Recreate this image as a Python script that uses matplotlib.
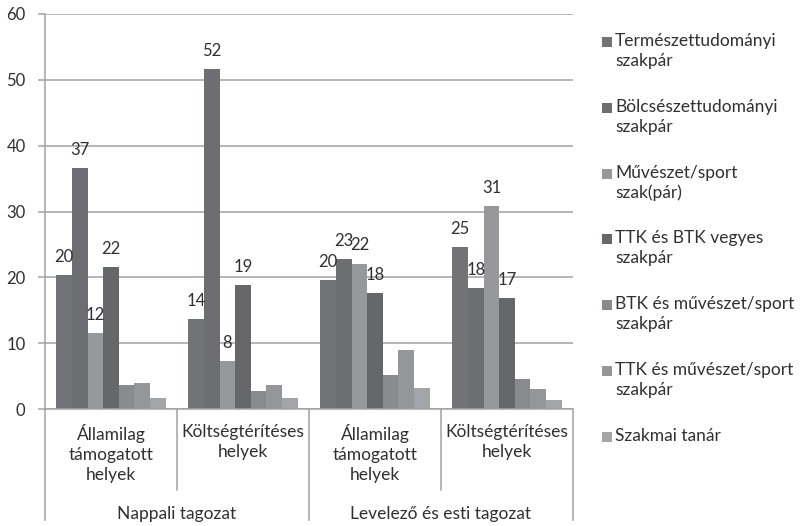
import matplotlib
matplotlib.use("Agg")
import matplotlib.pyplot as plt
import numpy as np
from matplotlib.lines import Line2D
from matplotlib.patches import Rectangle

plt.rcParams['font.family'] = ['Lato', 'DejaVu Sans']

categories = ["Államilag\ntámogatott\nhelyek", "Költségtérítéses\nhelyek",
              "Államilag\ntámogatott\nhelyek", "Költségtérítéses\nhelyek"]
groups = ["Nappali tagozat", "Levelező és esti tagozat"]

series_names = ["Természettudományi\nszakpár", "Bölcsészettudományi\nszakpár",
                "Művészet/sport\nszak(pár)", "TTK és BTK vegyes\nszakpár",
                "BTK és művészet/sport\nszakpár", "TTK és művészet/sport\nszakpár",
                "Szakmai tanár"]

termeszet = [20.4, 13.7, 19.6, 24.6]
bolcsesz = [36.6, 51.6, 22.8, 18.4]
muveszet = [11.6, 7.3, 22.1, 30.8]
ttk_btk = [21.6, 18.8, 17.6, 16.9]
btk_muv = [3.7, 2.8, 5.2, 4.5]
ttk_muv = [4.0, 3.7, 9.0, 3.0]
szakmai = [1.6, 1.6, 3.2, 1.4]

label_termeszet = ["20", "14", "20", "25"]
label_bolcsesz = ["37", "52", "23", "18"]
label_muveszet = ["12", "8", "22", "31"]
label_ttk_btk = ["22", "19", "18", "17"]

series = [termeszet, bolcsesz, muveszet, ttk_btk, btk_muv, ttk_muv, szakmai]
labels = [label_termeszet, label_bolcsesz, label_muveszet, label_ttk_btk, None, None, None]
colors = ["#727377", "#6d6e72", "#97989c", "#66676b", "#898a8e", "#95969a", "#a4a5a9"]

yticks = [0, 10, 20, 30, 40, 50, 60]

W, H = 804, 526
fig = plt.figure(figsize=(W / 100, H / 100), dpi=100)
ax_left, ax_right, ax_top, ax_zero = 45, 573, 14, 409
ax = fig.add_axes([ax_left / W, (H - ax_zero) / H, (ax_right - ax_left) / W, (ax_zero - ax_top) / H])

text_color = "#303030"
grid_color = "#a2a2a2"

x = np.arange(len(categories))
bw = 0.118
handles = []
for i, (vals, col) in enumerate(zip(series, colors)):
    offs = (i - 3) * bw
    bars = ax.bar(x + offs, vals, width=bw, color=col, edgecolor="none", zorder=3)
    handles.append(bars)
    if labels[i] is not None:
        for xi, v, lab in zip(x + offs, vals, labels[i]):
            ax.annotate(lab, (xi, v), xytext=(0, 13), textcoords="offset points",
                        ha="center", va="center", fontsize=12, color=text_color, zorder=5)

ax.set_xlim(-0.5, 3.5)
ax.set_ylim(0, 60)
ax.set_yticks(yticks)
ax.set_yticklabels([str(t) for t in yticks], fontsize=12, color=text_color)
ax.yaxis.grid(True, color=grid_color, linewidth=1.1, zorder=0)
ax.set_axisbelow(True)
ax.set_xticks([])
for s in ["top", "right", "bottom"]:
    ax.spines[s].set_visible(False)
ax.spines["left"].set_color(grid_color)
ax.spines["left"].set_linewidth(1.1)
ax.tick_params(axis="y", length=5, width=1.1, color=grid_color, pad=9)

# zero line
ax.axhline(0, color=grid_color, linewidth=1.1, zorder=4, clip_on=False)

# separators below the axis (axes-fraction coordinates)
hpx = ax_zero - ax_top
long_bot = -(520 - ax_zero) / hpx
short_bot = -(490 - ax_zero) / hpx
for xf, yb in [(0.0, long_bot), (0.25, short_bot), (0.5, long_bot), (0.75, short_bot), (1.0, long_bot)]:
    ax.add_line(Line2D([xf, xf], [0, yb], transform=ax.transAxes, color=grid_color,
                       linewidth=1.1, clip_on=False))

# category labels
for i, cat in enumerate(categories):
    ax.text((i + 0.5) / 4, -(424 - ax_zero) / hpx, cat, transform=ax.transAxes,
            ha="center", va="top", fontsize=12.5, color=text_color, linespacing=1.3)
for j, g in enumerate(groups):
    ax.text((j + 0.5) / 2, -(514 - ax_zero) / hpx, g, transform=ax.transAxes,
            ha="center", va="center", fontsize=12.5, color=text_color)

# legend
for i, (name, col) in enumerate(zip(series_names, colors)):
    yc = 42 + 65.8 * i
    fig.patches.append(Rectangle((602 / W, (H - yc - 5) / H), 10 / W, 10 / H,
                                 transform=fig.transFigure, facecolor=col, edgecolor="none"))
    fig.text(615 / W, (H - yc + 9) / H, name, ha="left", va="top", fontsize=12.5,
             color=text_color, linespacing=1.3)

fig.savefig("out.png", dpi=100)
